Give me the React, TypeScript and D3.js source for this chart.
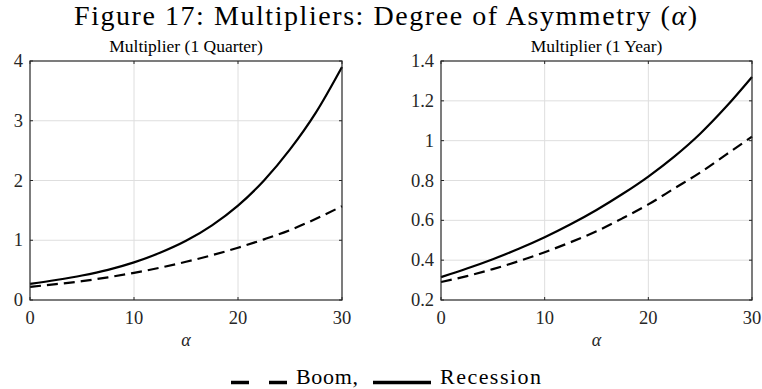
import React from "react";
import * as d3 from "d3";

// alpha grid shared by both panels
const alpha = [0, 2.5, 5, 7.5, 10, 12.5, 15, 17.5, 20, 22.5, 25, 27.5, 30];

// Multiplier after one quarter
const quarterBoom = [0.22, 0.265, 0.315, 0.38, 0.455, 0.54, 0.64, 0.75, 0.875, 1.015, 1.17, 1.36, 1.57];
const quarterRecession = [0.27, 0.335, 0.41, 0.505, 0.63, 0.79, 0.99, 1.25, 1.58, 2.0, 2.52, 3.14, 3.9];

// Multiplier after one year
const yearBoom = [0.29, 0.32, 0.355, 0.395, 0.44, 0.49, 0.545, 0.61, 0.68, 0.76, 0.84, 0.93, 1.02];
const yearRecession = [0.315, 0.358, 0.405, 0.457, 0.515, 0.58, 0.652, 0.732, 0.82, 0.92, 1.035, 1.17, 1.32];

const xTicks = [0, 10, 20, 30];
const quarterYTicks = [0, 1, 2, 3, 4];
const yearYTicks = [0.2, 0.4, 0.6, 0.8, 1, 1.2, 1.4];

const W = 762;
const H = 389;
const FONT = "'Liberation Serif', 'Times New Roman', serif";

type PanelProps = {
  left: number;
  right: number;
  top: number;
  bottom: number;
  title: string;
  yDomain: [number, number];
  yTicks: number[];
  boom: number[];
  recession: number[];
};

function Panel({ left, right, top, bottom, title, yDomain, yTicks, boom, recession }: PanelProps) {
  const x = d3.scaleLinear().domain([0, 30]).range([left, right]);
  const y = d3.scaleLinear().domain(yDomain).range([bottom, top]);
  const line = d3
    .line<number>()
    .x((_, i) => x(alpha[i]))
    .y((d) => y(d))
    .curve(d3.curveMonotoneX);
  const tickLen = 3;
  return (
    <g>
      {/* grid */}
      {xTicks.slice(1, -1).map((t) => (
        <line key={"gx" + t} x1={x(t)} x2={x(t)} y1={top} y2={bottom} stroke="#dedede" strokeWidth={1} />
      ))}
      {yTicks.slice(1, -1).map((t) => (
        <line key={"gy" + t} x1={left} x2={right} y1={y(t)} y2={y(t)} stroke="#dedede" strokeWidth={1} />
      ))}
      {/* series */}
      <path d={line(boom) || ""} fill="none" stroke="#000" strokeWidth={2.2} strokeDasharray="11,6" />
      <path d={line(recession) || ""} fill="none" stroke="#000" strokeWidth={2.2} />
      {/* axes box and inward ticks */}
      <rect x={left} y={top} width={right - left} height={bottom - top} fill="none" stroke="#262626" strokeWidth={1.2} />
      {xTicks.map((t) => (
        <g key={"tx" + t}>
          <line x1={x(t)} x2={x(t)} y1={bottom} y2={bottom - tickLen} stroke="#262626" />
          <line x1={x(t)} x2={x(t)} y1={top} y2={top + tickLen} stroke="#262626" />
          <text x={x(t)} y={bottom + 24} textAnchor="middle" fontSize={18.5} fill="#262626">
            {t}
          </text>
        </g>
      ))}
      {yTicks.map((t) => (
        <g key={"ty" + t}>
          <line x1={left} x2={left + tickLen} y1={y(t)} y2={y(t)} stroke="#262626" />
          <line x1={right} x2={right - tickLen} y1={y(t)} y2={y(t)} stroke="#262626" />
          <text x={left - 7} y={y(t) + 6} textAnchor="end" fontSize={18.5} fill="#262626">
            {String(t)}
          </text>
        </g>
      ))}
      <text x={(left + right) / 2} y={top - 9} textAnchor="middle" fontSize={17.5} fill="#000">
        {title}
      </text>
      <text x={(left + right) / 2} y={bottom + 46} textAnchor="middle" fontSize={18} fontStyle="italic" fill="#262626">
        α
      </text>
    </g>
  );
}

export default function App() {
  const legendY = 382.5;
  return (
    <svg width={W} height={H} style={{ position: "absolute", left: 0, top: 0, background: "#fff" }} fontFamily={FONT}>
      <rect width={W} height={H} fill="#fff" />
      <text x={74} y={25} fontSize={28} fill="#000" textLength={623} lengthAdjust="spacing">
        Figure 17: Multipliers: Degree of Asymmetry (<tspan fontStyle="italic">α</tspan>)
      </text>
      <Panel
        left={30}
        right={342}
        top={61}
        bottom={300}
        title="Multiplier (1 Quarter)"
        yDomain={[0, 4]}
        yTicks={quarterYTicks}
        boom={quarterBoom}
        recession={quarterRecession}
      />
      <Panel
        left={441}
        right={752}
        top={61}
        bottom={300}
        title="Multiplier (1 Year)"
        yDomain={[0.2, 1.4]}
        yTicks={yearYTicks}
        boom={yearBoom}
        recession={yearRecession}
      />
      {/* legend */}
      <line x1={231} x2={249} y1={legendY} y2={legendY} stroke="#000" strokeWidth={3.5} />
      <line x1={269} x2={287} y1={legendY} y2={legendY} stroke="#000" strokeWidth={3.5} />
      <text x={296} y={384} fontSize={22} fill="#000" textLength={62} lengthAdjust="spacing">
        Boom,
      </text>
      <line x1={373} x2={431} y1={legendY} y2={legendY} stroke="#000" strokeWidth={3.5} />
      <text x={440} y={384} fontSize={22} fill="#000" textLength={101} lengthAdjust="spacing">
        Recession
      </text>
    </svg>
  );
}
